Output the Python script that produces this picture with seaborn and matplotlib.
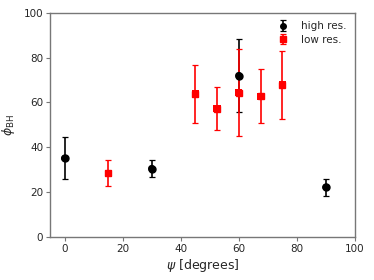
import matplotlib
matplotlib.use("Agg")
import matplotlib.pyplot as plt
import seaborn as sns
import pandas as pd

# high resolution runs
psi_high = [0, 30, 60, 90]
phi_high = [35.1, 30.5, 72.0, 22.2]
err_high = [9.4, 3.7, 16.2, 3.8]

# low resolution runs
psi_low = [15, 45, 52.5, 60, 67.5, 75]
phi_low = [28.4, 63.8, 57.3, 64.4, 62.8, 67.9]
err_low = [5.9, 12.8, 9.8, 19.4, 12.1, 15.3]

df_high = pd.DataFrame({"psi": psi_high, "phi": phi_high, "err": err_high})
df_low = pd.DataFrame({"psi": psi_low, "phi": phi_low, "err": err_low})

sns.set_style("ticks")
plt.rcParams["font.family"] = ["DejaVu Sans"]

fig = plt.figure(figsize=(3.74, 2.8), dpi=100)
ax = fig.add_axes([0.134, 0.154, 0.815, 0.8])

ax.errorbar(df_high["psi"], df_high["phi"], yerr=df_high["err"], fmt="o",
            color="black", ms=5, capsize=2.5, elinewidth=1.2, capthick=0.9,
            label="high res.")
ax.errorbar(df_low["psi"], df_low["phi"], yerr=df_low["err"], fmt="s",
            color="red", ms=5, capsize=2.5, elinewidth=1.2, capthick=0.9,
            label="low res.")
sns.scatterplot(data=df_high, x="psi", y="phi", marker="o", color="black",
                s=28, edgecolor="none", ax=ax, zorder=3, legend=False)
sns.scatterplot(data=df_low, x="psi", y="phi", marker="s", color="red",
                s=28, edgecolor="none", ax=ax, zorder=3, legend=False)

ax.set_xlim(-5, 100)
ax.set_ylim(0, 100)
ax.set_xticks([0, 20, 40, 60, 80, 100])
ax.set_yticks([0, 20, 40, 60, 80, 100])
ax.set_xlabel(r"$\psi$ [degrees]", fontsize=9, labelpad=2)
ax.set_ylabel(r"$\phi_{\rm BH}$", fontsize=9)
ax.yaxis.set_label_coords(-0.11, 0.5)
ax.tick_params(labelsize=7.5, length=3, color="#777777", width=0.8, pad=2)
for sp in ax.spines.values():
    sp.set_color("#777777")
    sp.set_linewidth(1.0)

ax.legend(loc="upper right", frameon=False, fontsize=7.5, markerscale=0.8,
          handletextpad=0.9, handlelength=1.6, borderaxespad=0.4,
          labelspacing=0.35)

fig.savefig("out.png", dpi=100)
